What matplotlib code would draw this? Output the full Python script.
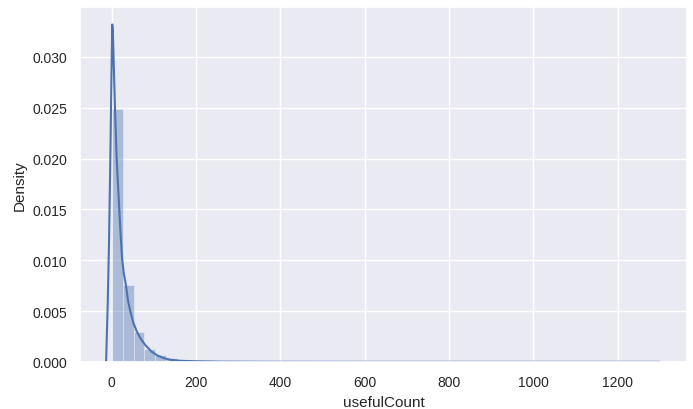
import matplotlib
matplotlib.use("Agg")
import matplotlib.pyplot as plt
import seaborn as sns

sns.set_theme(style="darkgrid")
plt.rcParams['font.family'] = ['Liberation Sans', 'DejaVu Sans']

# histogram (density): 50 bins of width ~26 from 0
bin_width = 26.0
hist_density = [0.0249, 0.00755, 0.00297, 0.00127, 0.00069, 0.00036,
                0.00020, 0.00012, 0.00008, 0.00006, 0.00004, 0.00003,
                0.00002, 0.00002, 0.000015, 0.000012, 0.00001, 0.00001,
                0.000008, 0.000006, 0.000005, 0.000004, 0.000004, 0.000003,
                0.000003, 0.000002, 0.000002, 0.000002, 0.000002, 0.000001,
                0.000001, 0.000001, 0.000001, 0.000001, 0.000001, 0.000001,
                0.000001, 0.000001, 0.000001, 0.000001, 0.000001, 0.000001,
                0.000001, 0.000001, 0.000001, 0.000001, 0.000001, 0.000001,
                0.000001, 0.000001]

# kde curve
kde_x = [-13, -9, -6, -3, 0, 1.6, 3, 5, 8, 12, 17, 21, 25, 29, 34, 39,
         45, 52, 60, 70, 81, 95, 109, 125, 140, 165, 196, 260, 400, 600,
         800, 1000, 1200, 1300]
kde_y = [0.0, 0.006, 0.012, 0.020, 0.029, 0.0332, 0.0325, 0.0295, 0.025,
         0.020, 0.016, 0.0128, 0.0101, 0.0087, 0.00755, 0.0060, 0.00487,
         0.0038, 0.00297, 0.0022, 0.0016, 0.0010, 0.00062, 0.00035, 0.0002,
         0.0001, 0.00006, 0.00002, 0.000005, 0.000002, 0.000001, 0.000001,
         0.000001, 0.0]

color = "#4C72B0"

fig = plt.figure(figsize=(6.93, 4.10), dpi=100)
ax = fig.add_axes([0.116, 0.115, 0.875, 0.865])

lefts = [i * bin_width for i in range(len(hist_density))]
ax.bar(lefts, hist_density, width=bin_width, align='edge',
       color=color, alpha=0.4, edgecolor='white', linewidth=0.6)
ax.plot(kde_x, kde_y, color=color, lw=1.5)

ax.set_xlim(-74, 1364)
ax.set_ylim(0, 0.0349)
ax.tick_params(labelsize=10)
ax.set_xlabel("usefulCount", fontsize=11)
ax.set_ylabel("Density", fontsize=11)

fig.savefig("out.png", dpi=100)
